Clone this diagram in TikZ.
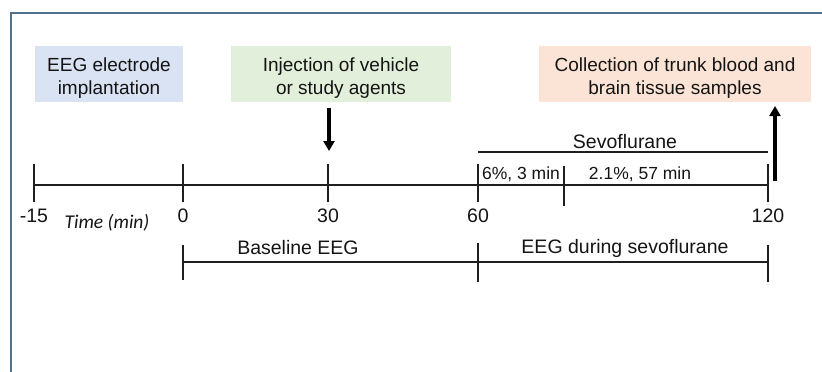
\documentclass[tikz,border=0pt]{standalone}
\usepackage{fontspec}
\setmainfont{Liberation Sans}
\newfontfamily\calfont{Carlito}
\usetikzlibrary{arrows.meta,positioning}
\definecolor{boxblue}{HTML}{DAE3F3}
\definecolor{boxgreen}{HTML}{E2EFDA}
\definecolor{boxorange}{HTML}{FBE4D6}
\definecolor{framecol}{HTML}{52708E}
\newcommand{\boxstrut}{\rule{0pt}{23pt}}
\tikzset{
  tl/.style={x=1pt, y=-1pt, font=\fontsize{19.5}{23.3}\selectfont, text=black!92},
  t box/.style={align=center, inner sep=0pt, minimum height=56.5pt, font=\fontsize{19}{23.3}\selectfont},
  t blue/.style={t box, fill=boxblue, minimum width=148pt},
  t green/.style={t box, fill=boxgreen, minimum width=220pt},
  t orange/.style={t box, fill=boxorange, minimum width=272pt},
  t line/.style={line width=1.3pt, draw=black!88},
  t arr/.style={line width=3.5pt, draw=black, -{Triangle[width=11pt,length=10pt]}},
  t num/.style={anchor=base, inner sep=0pt},
  t small/.style={t num, font=\fontsize{17.5}{20}\selectfont},
  t time/.style={t num, font=\calfont\itshape\fontsize{19.5}{22}\selectfont},
  t frame/.style={draw=framecol, line width=2pt},
}
\begin{document}
\begin{tikzpicture}[tl]
\useasboundingbox (0, 0) rectangle (822, 372);
% ---- frame ----
\draw[t frame] (11, 372) -- (11, 12.5) -- (822, 12.5);
% ---- events ----
\node[t blue]   (b1) at (109, 73.75) {\boxstrut EEG electrode\\implantation};
\node[t green]  (b2) at (341, 73.75) {\boxstrut Injection of vehicle\\or study agents};
\node[t orange] (b3) at (675, 73.75) {\boxstrut Collection of trunk blood and\\brain tissue samples};
% ---- time axis ----
\coordinate (ax0) at (34, 185); \coordinate (ax1) at (768, 185);
\draw[t line] (ax0) -- (ax1);
\foreach \x/\v [count=\i] in {34/-15, 183/0, 328/30, 478/60, 768/120}{
  \draw[t line] (\x, 164) -- (\x, 202);
  \node[t num] (n\i) at (\x, 222) {\v};
}
\draw[t line] (564, 166) -- (564, 206);
\node[t time] (tm) at (107, 228) {Time (min)};
% ---- sevoflurane ----
\coordinate (sv0) at (478, 152); \coordinate (sv1) at (768, 152);
\draw[t line] (sv0) -- (sv1);
\node[t num]   (sv) at (625, 148) {Sevoflurane};
\node[t small] (s1) at (521, 179) {6\%, 3 min};
\node[t small] (s2) at (640, 179) {2.1\%, 57 min};
% ---- EEG periods ----
\coordinate (e0) at (183, 262); \coordinate (e1) at (478, 262); \coordinate (e2) at (768, 262);
\draw[t line] (e0) -- (e2);
\draw[t line] (183, 245) -- (183, 280); \draw[t line] (478, 243) -- (478, 282); \draw[t line] (768, 245) -- (768, 282);
\node[t num] (p1) at (298, 254) {Baseline EEG};
\node[t num] (p2) at (625, 253) {EEG during sevoflurane};
% ---- arrows ----
\coordinate (inj0) at (329, 108); \coordinate (inj1) at (329, 151);
\coordinate (col0) at (775, 181); \coordinate (col1) at (775, 106);
\draw[t arr] (inj0) -- (inj1);
\draw[t arr] (col0) -- (col1);
\end{tikzpicture}
\end{document}
